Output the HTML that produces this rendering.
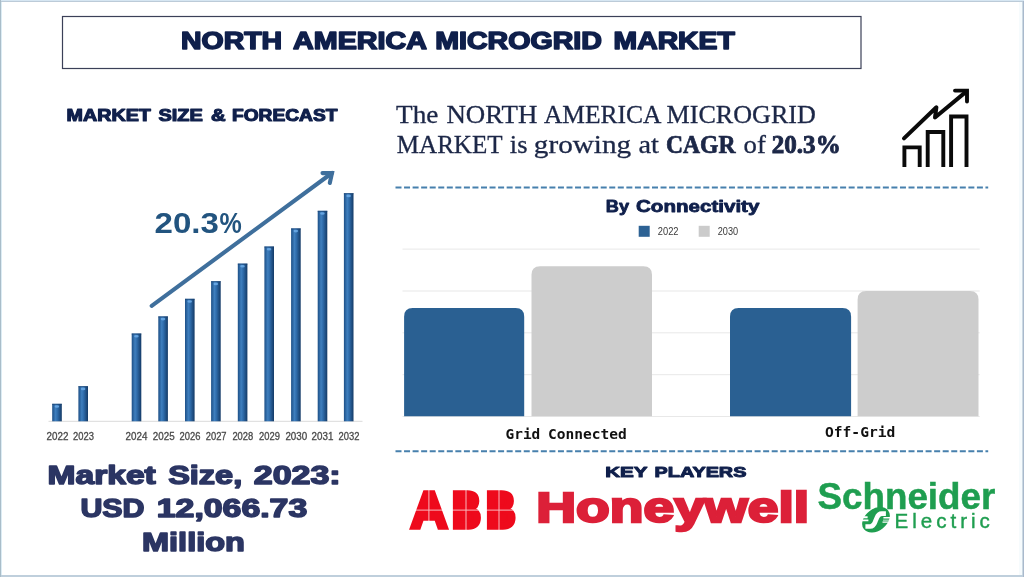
<!DOCTYPE html>
<html lang="en">
<head>
<meta charset="utf-8">
<title>North America Microgrid Market</title>
<style>
html,body{margin:0;padding:0;background:#fff;}
body{width:1024px;height:577px;overflow:hidden;position:relative;font-family:"Liberation Sans",sans-serif;}
svg{position:absolute;left:0;top:0;display:block;}
.sans{font-family:"Liberation Sans",sans-serif;}
.serif{font-family:"Liberation Serif",serif;}
.mono{font-family:"DejaVu Sans Mono","Liberation Mono",monospace;}
.hvy{font-family:"Liberation Sans",sans-serif;font-weight:700;paint-order:stroke fill;stroke-linejoin:round;}
.blk{font-family:"Liberation Sans",sans-serif;font-weight:700;paint-order:stroke fill;stroke-linejoin:miter;}
</style>
</head>
<body>
<svg width="1024" height="577" viewBox="0 0 1024 577">
<defs>
<linearGradient id="cyl" x1="0" x2="1" y1="0" y2="0">
<stop offset="0" stop-color="#1d4f86"/>
<stop offset="0.35" stop-color="#3f7fbe"/>
<stop offset="0.55" stop-color="#2f6cab"/>
<stop offset="1" stop-color="#143a66"/>
</linearGradient>
</defs>
<g id="frame">
<rect x="0" y="0" width="1024" height="577" fill="#ffffff"/>
<rect x="0" y="0" width="1024" height="1" fill="#d6e6f2"/>
<rect x="0" y="1" width="1024" height="1" fill="#bccbd8"/>
<rect x="0" y="575" width="1024" height="2" fill="#bfcfdc"/>
<rect x="0" y="0" width="1" height="577" fill="#a9bdc9"/>
<rect x="1" y="2" width="1" height="573" fill="#dcecf4"/>
<rect x="1019" y="2" width="3" height="573" fill="#f6fbfd"/>
<rect x="1022" y="2" width="1" height="573" fill="#cbd9e3"/>
<rect x="1023" y="1" width="1" height="576" fill="#a9b9cc"/>
</g>
<g id="title">
<rect x="62.5" y="16.5" width="798.5" height="52" fill="#fff" stroke="#3b4058" stroke-width="1.2"/>
<text class="hvy" y="48.7" font-size="23.3" fill="#0f1f4b" stroke="#0f1f4b" stroke-width="1.5"><tspan x="181.0" textLength="101.04" lengthAdjust="spacingAndGlyphs">NORTH</tspan> <tspan x="293.1" textLength="132.8" lengthAdjust="spacingAndGlyphs">AMERICA</tspan> <tspan x="435.2" textLength="166.8" lengthAdjust="spacingAndGlyphs">MICROGRID</tspan> <tspan x="613.6" textLength="121.2" lengthAdjust="spacingAndGlyphs">MARKET</tspan></text>
</g>
<g id="left">
<text class="hvy" y="120.75" font-size="16.1" fill="#0f1f4b" stroke="#0f1f4b" stroke-width="1.1"><tspan x="66.6" textLength="84.2" lengthAdjust="spacingAndGlyphs">MARKET</tspan> <tspan x="158.4" textLength="44.4" lengthAdjust="spacingAndGlyphs">SIZE</tspan> <tspan x="211.0" textLength="14.6" lengthAdjust="spacingAndGlyphs">&amp;</tspan> <tspan x="232.0" textLength="105.4" lengthAdjust="spacingAndGlyphs">FORECAST</tspan></text>
<rect x="48.5" y="420.8" width="314" height="1" fill="#dadada"/>
<rect x="52.2" y="403.8" width="9.6" height="17.5" fill="url(#cyl)"/>
<rect x="52.2" y="403.8" width="9.6" height="1" fill="#1a4272" opacity="0.7"/>
<ellipse cx="56.9" cy="406.5" rx="2.3" ry="1.3" fill="#6aaae6" opacity="0.9"/>
<rect x="78.4" y="386.2" width="9.6" height="35.1" fill="url(#cyl)"/>
<rect x="78.4" y="386.2" width="9.6" height="1" fill="#1a4272" opacity="0.7"/>
<ellipse cx="83.1" cy="388.9" rx="2.3" ry="1.3" fill="#6aaae6" opacity="0.9"/>
<rect x="131.7" y="333.5" width="9.6" height="87.8" fill="url(#cyl)"/>
<rect x="131.7" y="333.5" width="9.6" height="1" fill="#1a4272" opacity="0.7"/>
<ellipse cx="136.4" cy="336.2" rx="2.3" ry="1.3" fill="#6aaae6" opacity="0.9"/>
<rect x="158.3" y="316.4" width="9.6" height="104.9" fill="url(#cyl)"/>
<rect x="158.3" y="316.4" width="9.6" height="1" fill="#1a4272" opacity="0.7"/>
<ellipse cx="163.0" cy="319.1" rx="2.3" ry="1.3" fill="#6aaae6" opacity="0.9"/>
<rect x="185.0" y="298.8" width="9.6" height="122.5" fill="url(#cyl)"/>
<rect x="185.0" y="298.8" width="9.6" height="1" fill="#1a4272" opacity="0.7"/>
<ellipse cx="189.7" cy="301.5" rx="2.3" ry="1.3" fill="#6aaae6" opacity="0.9"/>
<rect x="211.1" y="281.2" width="9.6" height="140.1" fill="url(#cyl)"/>
<rect x="211.1" y="281.2" width="9.6" height="1" fill="#1a4272" opacity="0.7"/>
<ellipse cx="215.8" cy="283.9" rx="2.3" ry="1.3" fill="#6aaae6" opacity="0.9"/>
<rect x="237.8" y="263.6" width="9.6" height="157.7" fill="url(#cyl)"/>
<rect x="237.8" y="263.6" width="9.6" height="1" fill="#1a4272" opacity="0.7"/>
<ellipse cx="242.5" cy="266.3" rx="2.3" ry="1.3" fill="#6aaae6" opacity="0.9"/>
<rect x="264.4" y="246.5" width="9.6" height="174.8" fill="url(#cyl)"/>
<rect x="264.4" y="246.5" width="9.6" height="1" fill="#1a4272" opacity="0.7"/>
<ellipse cx="269.1" cy="249.2" rx="2.3" ry="1.3" fill="#6aaae6" opacity="0.9"/>
<rect x="291.1" y="228.4" width="9.6" height="192.9" fill="url(#cyl)"/>
<rect x="291.1" y="228.4" width="9.6" height="1" fill="#1a4272" opacity="0.7"/>
<ellipse cx="295.8" cy="231.1" rx="2.3" ry="1.3" fill="#6aaae6" opacity="0.9"/>
<rect x="317.7" y="210.8" width="9.6" height="210.5" fill="url(#cyl)"/>
<rect x="317.7" y="210.8" width="9.6" height="1" fill="#1a4272" opacity="0.7"/>
<ellipse cx="322.4" cy="213.5" rx="2.3" ry="1.3" fill="#6aaae6" opacity="0.9"/>
<rect x="343.9" y="193.2" width="9.6" height="228.1" fill="url(#cyl)"/>
<rect x="343.9" y="193.2" width="9.6" height="1" fill="#1a4272" opacity="0.7"/>
<ellipse cx="348.6" cy="195.9" rx="2.3" ry="1.3" fill="#6aaae6" opacity="0.9"/>
<text class="sans" y="439.7" font-size="10.5" fill="#4a4a4a" stroke="#4a4a4a" stroke-width="0.3"><tspan x="46.6" textLength="21.84" lengthAdjust="spacingAndGlyphs">2022</tspan></text>
<text class="sans" y="439.7" font-size="10.5" fill="#4a4a4a" stroke="#4a4a4a" stroke-width="0.3"><tspan x="73.0" textLength="20.9" lengthAdjust="spacingAndGlyphs">2023</tspan></text>
<text class="sans" y="439.7" font-size="10.5" fill="#4a4a4a" stroke="#4a4a4a" stroke-width="0.3"><tspan x="125.6" textLength="21.84" lengthAdjust="spacingAndGlyphs">2024</tspan></text>
<text class="sans" y="439.7" font-size="10.5" fill="#4a4a4a" stroke="#4a4a4a" stroke-width="0.3"><tspan x="152.8" textLength="21.84" lengthAdjust="spacingAndGlyphs">2025</tspan></text>
<text class="sans" y="439.7" font-size="10.5" fill="#4a4a4a" stroke="#4a4a4a" stroke-width="0.3"><tspan x="179.6" textLength="20.9" lengthAdjust="spacingAndGlyphs">2026</tspan></text>
<text class="sans" y="439.7" font-size="10.5" fill="#4a4a4a" stroke="#4a4a4a" stroke-width="0.3"><tspan x="205.7" textLength="20.9" lengthAdjust="spacingAndGlyphs">2027</tspan></text>
<text class="sans" y="439.7" font-size="10.5" fill="#4a4a4a" stroke="#4a4a4a" stroke-width="0.3"><tspan x="232.4" textLength="20.9" lengthAdjust="spacingAndGlyphs">2028</tspan></text>
<text class="sans" y="439.7" font-size="10.5" fill="#4a4a4a" stroke="#4a4a4a" stroke-width="0.3"><tspan x="259.0" textLength="20.9" lengthAdjust="spacingAndGlyphs">2029</tspan></text>
<text class="sans" y="439.7" font-size="10.5" fill="#4a4a4a" stroke="#4a4a4a" stroke-width="0.3"><tspan x="285.4" textLength="21.84" lengthAdjust="spacingAndGlyphs">2030</tspan></text>
<text class="sans" y="439.7" font-size="10.5" fill="#4a4a4a" stroke="#4a4a4a" stroke-width="0.3"><tspan x="311.6" textLength="21.84" lengthAdjust="spacingAndGlyphs">2031</tspan></text>
<text class="sans" y="439.7" font-size="10.5" fill="#4a4a4a" stroke="#4a4a4a" stroke-width="0.3"><tspan x="338.5" textLength="20.9" lengthAdjust="spacingAndGlyphs">2032</tspan></text>
<path d="M151.7 305.8 L332 173" fill="none" stroke="#3f6f9c" stroke-width="4.1" stroke-linecap="round"/>
<path d="M322.5 173.1 L332 173 L329.8 183" fill="none" stroke="#3f6f9c" stroke-width="4.1" stroke-linecap="round" stroke-linejoin="miter"/>
<text class="sans" y="232.6" font-size="30" font-weight="700" fill="#22547f"><tspan x="154.6" textLength="64.31" lengthAdjust="spacingAndGlyphs">20.3</tspan><tspan x="219.4" textLength="22.26" lengthAdjust="spacingAndGlyphs">%</tspan></text>
<text class="hvy" y="483.9" font-size="25.8" fill="#2b3563" stroke="#2b3563" stroke-width="1.5"><tspan x="47.6" textLength="108.21" lengthAdjust="spacingAndGlyphs">Market</tspan> <tspan x="168.2" textLength="74.01" lengthAdjust="spacingAndGlyphs">Size,</tspan> <tspan x="253.8" textLength="86.9" lengthAdjust="spacingAndGlyphs">2023:</tspan></text>
<text class="hvy" y="517.2" font-size="25.8" fill="#2b3563" stroke="#2b3563" stroke-width="1.5"><tspan x="80.4" textLength="64.1" lengthAdjust="spacingAndGlyphs">USD</tspan> <tspan x="156.8" textLength="150.42" lengthAdjust="spacingAndGlyphs">12,066.73</tspan></text>
<text class="hvy" y="550.6" font-size="25.8" fill="#2b3563" stroke="#2b3563" stroke-width="1.5"><tspan x="142.0" textLength="102.94" lengthAdjust="spacingAndGlyphs">Million</tspan></text>
</g>
<g id="right">
<text class="serif" y="122.5" font-size="24.6" fill="#1c2747" stroke="#1c2747" stroke-width="0.3"><tspan x="396.1" textLength="42.3" lengthAdjust="spacingAndGlyphs">The</tspan> <tspan x="446.4" textLength="91.03" lengthAdjust="spacingAndGlyphs">NORTH</tspan> <tspan x="543.9" textLength="116.2" lengthAdjust="spacingAndGlyphs">AMERICA</tspan> <tspan x="666.6" textLength="149.22" lengthAdjust="spacingAndGlyphs">MICROGRID</tspan></text>
<text class="serif" y="153.1" font-size="24.6" fill="#1c2747" stroke="#1c2747" stroke-width="0.3"><tspan x="396.8" textLength="105.3" lengthAdjust="spacingAndGlyphs">MARKET</tspan> <tspan x="509.8" textLength="17.68" lengthAdjust="spacingAndGlyphs">is</tspan> <tspan x="533.8" textLength="97.42" lengthAdjust="spacingAndGlyphs">growing</tspan> <tspan x="638.4" textLength="20.43" lengthAdjust="spacingAndGlyphs">at</tspan> <tspan x="666.0" textLength="69.5" lengthAdjust="spacingAndGlyphs" font-weight="700" stroke-width="0.7">CAGR</tspan> <tspan x="743.5" textLength="22.3" lengthAdjust="spacingAndGlyphs">of</tspan> <tspan x="771.8" textLength="68.89" lengthAdjust="spacingAndGlyphs" font-weight="700" stroke-width="0.9">20.3%</tspan></text>
<g fill="none" stroke="#0a0a0a" stroke-width="3.9">
<path d="M904.4 167 V147.4 H919.7 V167"/>
<path d="M927.7 167 V132.0 H943.3 V167"/>
<path d="M951.1 167 V116.5 H966.5 V167"/>
<path d="M904 138.4 L936.4 107.3 L935.0 117.5 L966.2 91.6" stroke-width="4" stroke-linecap="round" stroke-linejoin="round"/>
<path d="M955 90.6 H967 V101.6" stroke-width="3.9" stroke-linecap="round" stroke-linejoin="miter"/>
</g>
<path d="M395.5 187.5 H988.2" stroke="#4780ad" stroke-width="2" stroke-dasharray="6 2.55" fill="none"/>
<path d="M395.5 451.2 H988.2" stroke="#4780ad" stroke-width="2" stroke-dasharray="6 2.55" fill="none"/>
<text class="hvy" y="212.2" font-size="16.3" fill="#0f1f4b" stroke="#0f1f4b" stroke-width="0.8"><tspan x="605.8" textLength="23.2" lengthAdjust="spacingAndGlyphs">By</tspan> <tspan x="636.0" textLength="123.4" lengthAdjust="spacingAndGlyphs">Connectivity</tspan></text>
<rect x="638.7" y="225.8" width="11" height="11" fill="#2d6294"/>
<rect x="698.7" y="225.8" width="11" height="11" fill="#cbcbcb"/>
<text class="sans" y="235.2" font-size="10.6" fill="#3a3a3a"><tspan x="657.8" textLength="20.67" lengthAdjust="spacingAndGlyphs">2022</tspan></text>
<text class="sans" y="235.2" font-size="10.6" fill="#3a3a3a"><tspan x="717.7" textLength="20.4" lengthAdjust="spacingAndGlyphs">2030</tspan></text>
<rect x="402.5" y="248.6" width="577.2" height="1" fill="#e8e8e8"/>
<rect x="402.5" y="290.5" width="577.2" height="1" fill="#e8e8e8"/>
<rect x="402.5" y="332.3" width="577.2" height="1" fill="#e8e8e8"/>
<rect x="402.5" y="374.2" width="577.2" height="1" fill="#e8e8e8"/>
<rect x="402.5" y="416.0" width="577.2" height="1" fill="#e8e8e8"/>
<path d="M404.1 416.3 V316.70000000000005 Q404.1 308.1 412.70000000000005 308.1 H515.6 Q524.2 308.1 524.2 316.70000000000005 V416.3 Z" fill="#2a6092"/>
<path d="M531.5 416.3 V274.8 Q531.5 266.2 540.1 266.2 H643.4 Q652 266.2 652 274.8 V416.3 Z" fill="#cdcdcd"/>
<path d="M730 416.3 V316.70000000000005 Q730 308.1 738.6 308.1 H842.5 Q851.1 308.1 851.1 316.70000000000005 V416.3 Z" fill="#2a6092"/>
<path d="M857.6 416.3 V299.6 Q857.6 291 866.2 291 H969.9 Q978.5 291 978.5 299.6 V416.3 Z" fill="#cdcdcd"/>
<text class="mono" y="438.7" font-size="13.6" font-weight="700" fill="#111"><tspan x="505.6" textLength="34.72" lengthAdjust="spacingAndGlyphs">Grid</tspan> <tspan x="548.0" textLength="78.85" lengthAdjust="spacingAndGlyphs">Connected</tspan></text>
<text class="mono" y="436.6" font-size="13.6" font-weight="700" fill="#111"><tspan x="825.0" textLength="70.27" lengthAdjust="spacingAndGlyphs">Off-Grid</tspan></text>
<text class="hvy" y="476.7" font-size="15.4" fill="#0f1f4b" stroke="#0f1f4b" stroke-width="1.0"><tspan x="605.2" textLength="42.05" lengthAdjust="spacingAndGlyphs">KEY</tspan> <tspan x="654.6" textLength="91.81" lengthAdjust="spacingAndGlyphs">PLAYERS</tspan></text>
</g>
<g id="logos">
<path d="M426.5 501 L431 501 L434 517.5 L423.5 517.5 Z" fill="#ee0a1c"/>
<rect x="458" y="494" width="17" height="31" fill="#ee0a1c"/>
<rect x="491.5" y="494" width="17" height="31" fill="#ee0a1c"/>
<text class="blk" y="527.6" font-size="52" fill="#ee0a1c" stroke="#ee0a1c" stroke-width="3.5"><tspan x="410.2" textLength="37.72" lengthAdjust="spacingAndGlyphs">A</tspan><tspan x="451.6" textLength="29.94" lengthAdjust="spacingAndGlyphs">B</tspan><tspan x="485.4" textLength="30.59" lengthAdjust="spacingAndGlyphs">B</tspan></text>
<g fill="#ffffff" opacity="0.7">
<rect x="408" y="509.6" width="108" height="1"/>
<rect x="428.4" y="489" width="1" height="41"/>
<rect x="465.5" y="489" width="1" height="41"/>
<rect x="498.5" y="489" width="1" height="41"/>
</g>
<text class="blk" y="521.8" font-size="41.8" fill="#dc2038" stroke="#dc2038" stroke-width="2.4"><tspan x="536.3" textLength="272.78" lengthAdjust="spacingAndGlyphs">Honeywell</tspan></text>
<text class="sans" y="509.1" font-size="37.3" font-weight="700" fill="#1f9e50" stroke="#1f9e50" stroke-width="0.5"><tspan x="817.6" textLength="177.62" lengthAdjust="spacingAndGlyphs">Schneider</tspan></text>
<text class="sans" x="894.6" y="528.3" font-size="20.6" fill="#1f9e50" stroke="#1f9e50" stroke-width="0.4" textLength="95.2" lengthAdjust="spacing">Electric</text>
<g transform="translate(876 519.8)">
<ellipse cx="0" cy="0" rx="15.3" ry="10.9" transform="rotate(-37.4)" fill="#1f9e50"/>
<path d="M-10.6 6.7 H-5.8 C-1.4 6.7 -1.5 3 0 0 S 1.2 -6.2 5.8 -6.2 H9.9" fill="none" stroke="#fff" stroke-width="4.7" stroke-linecap="butt"/>
<path d="M-17 -3.5 H-8.4 V-1.6 H-17 Z M-17 -0.2 H-7.6 V1.5 H-17 Z M7.4 -2.7 H17 V-1.2 H7.4 Z M7 0 H17 V0.7 H7 Z M6.5 1.7 H17 V2.9 H6.5 Z" fill="#fff"/>
<g fill="#9a9a9a">
<rect x="509.8" y="552" width="1.2" height="1.2" opacity="0.9"/>
<rect x="576.5" y="552.2" width="4" height="1" opacity="0.7"/>
<rect x="421.5" y="552.3" width="1.5" height="1" opacity="0.25"/>
<rect x="437" y="552.3" width="1.5" height="1" opacity="0.25"/>
<rect x="605.5" y="552.3" width="1.5" height="1" opacity="0.25"/>
<rect x="622" y="552.3" width="1.5" height="1" opacity="0.25"/>
</g>
</g>
</svg>
</body>
</html>
